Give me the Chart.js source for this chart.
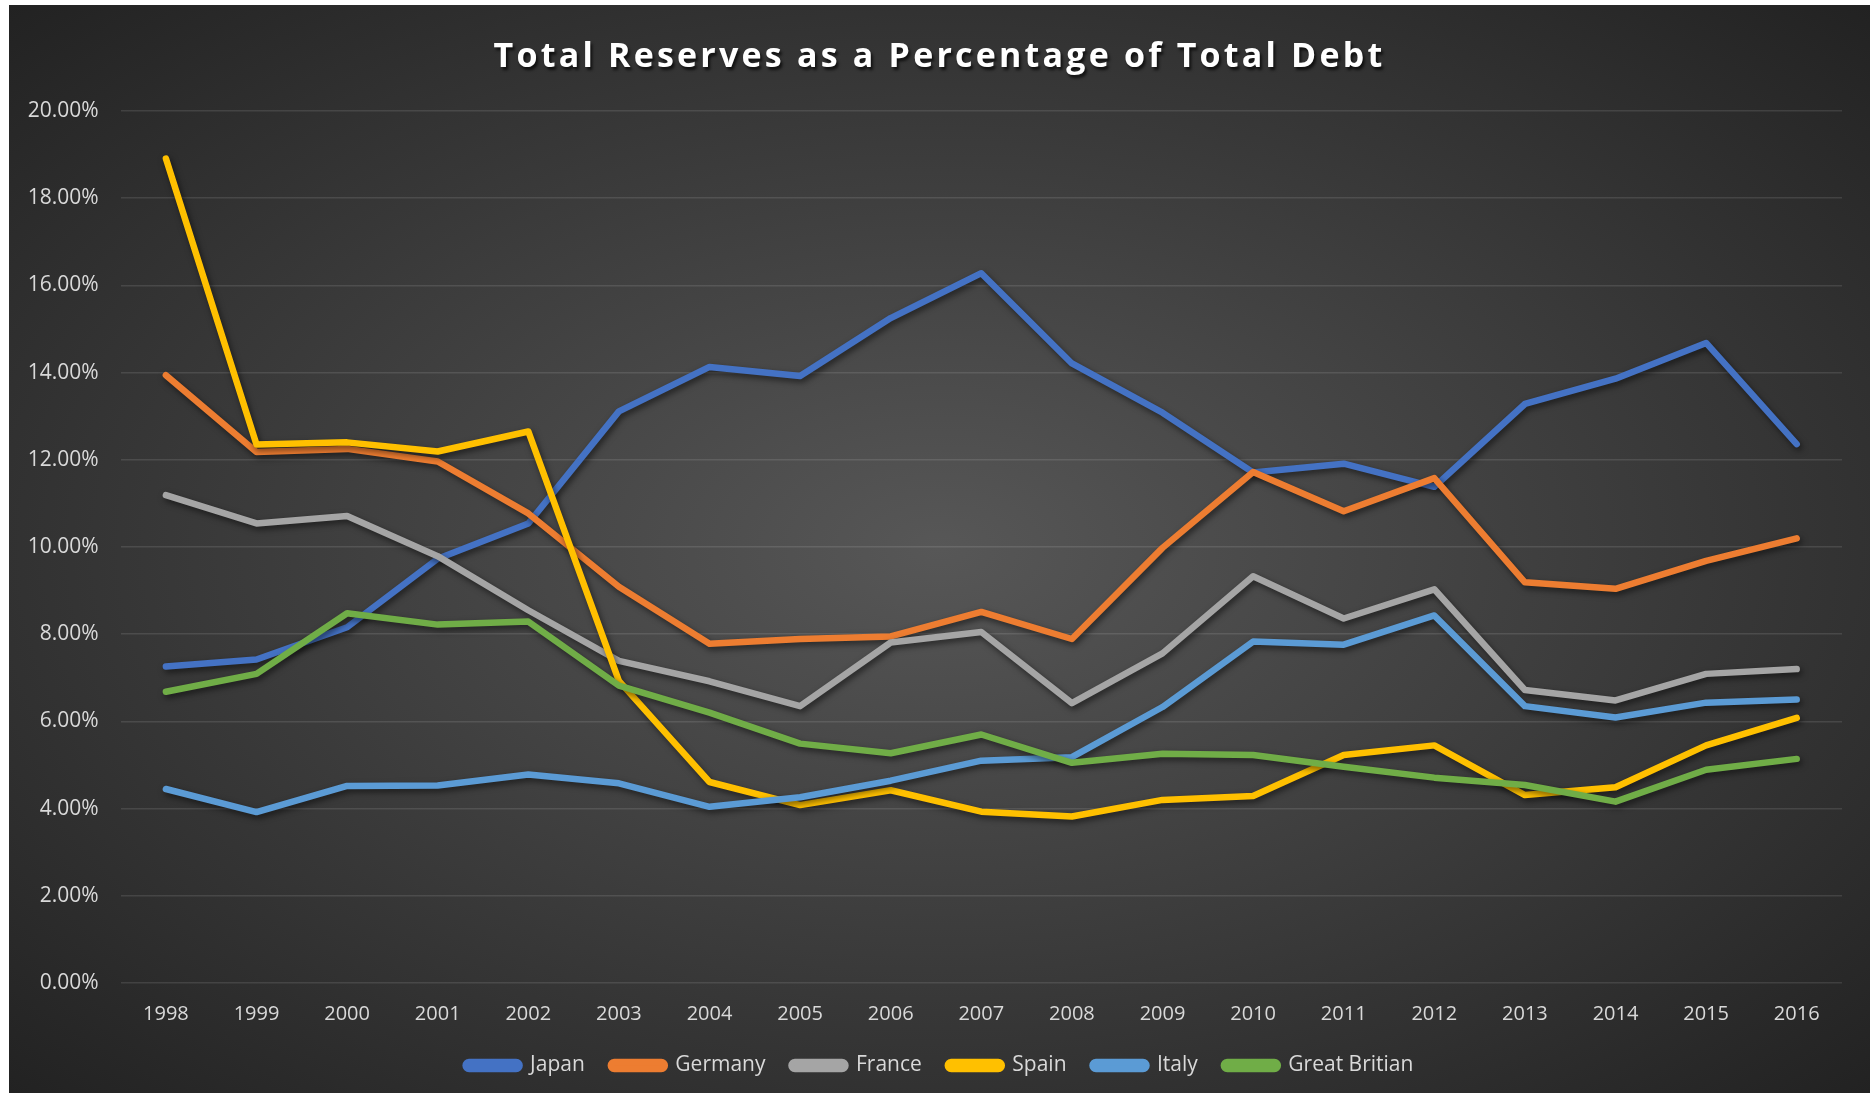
<!DOCTYPE html>
<html>
<head>
<meta charset="utf-8">
<script src="https://cdn.jsdelivr.net/npm/chart.js@4/dist/chart.umd.min.js"></script>
<style>
  body { margin: 0; background: #fff; width: 1872px; height: 1099px; overflow: hidden; }
  #box {
    position: absolute; left: 9px; top: 5px; width: 1861px; height: 1088px;
    background: radial-gradient(ellipse farthest-corner at 50% 50%, #575757 0%, #222 100%);
  }
  #title {
    position: absolute; left: 0; right: 0; top: 27px; text-align: center;
    font-family: "Open Sans", sans-serif; font-weight: bold; font-size: 34px;
    letter-spacing: 3.2px; color: #fff; line-height: 44px;
    text-shadow: 2px 3px 3px rgba(0, 0, 0, 0.7);
  }
  #chart { position: absolute; left: 0; top: 0; }
</style>
</head>
<body>
<div id="box">
  <canvas id="chart"></canvas>
  <div id="title">Total Reserves as a Percentage of Total Debt</div>
</div>
<script>
// Data (percent)
const years = ['1998', '1999', '2000', '2001', '2002', '2003', '2004', '2005', '2006', '2007',
  '2008', '2009', '2010', '2011', '2012', '2013', '2014', '2015', '2016'];
const japan = [7.26, 7.42, 8.16, 9.73, 10.54, 13.11, 14.13, 13.92, 15.25, 16.28,
  14.21, 13.08, 11.71, 11.91, 11.38, 13.28, 13.86, 14.68, 12.36];
const germany = [13.94, 12.18, 12.25, 11.96, 10.77, 9.09, 7.78, 7.89, 7.95, 8.51,
  7.89, 9.98, 11.72, 10.82, 11.58, 9.19, 9.04, 9.68, 10.20];
const france = [11.19, 10.54, 10.71, 9.79, 8.55, 7.39, 6.92, 6.35, 7.81, 8.05,
  6.42, 7.56, 9.33, 8.36, 9.03, 6.72, 6.48, 7.09, 7.20];
const spain = [18.91, 12.35, 12.40, 12.19, 12.65, 6.93, 4.61, 4.08, 4.42, 3.93,
  3.82, 4.20, 4.29, 5.23, 5.45, 4.31, 4.49, 5.45, 6.08];
const italy = [4.45, 3.92, 4.52, 4.53, 4.78, 4.58, 4.04, 4.26, 4.64, 5.10,
  5.18, 6.33, 7.83, 7.76, 8.43, 6.35, 6.09, 6.43, 6.50];
const greatBritain = [6.68, 7.09, 8.48, 8.22, 8.29, 6.82, 6.20, 5.49, 5.27, 5.70,
  5.05, 5.26, 5.23, 4.96, 4.71, 4.54, 4.16, 4.89, 5.14];
const yTicks = [0, 2, 4, 6, 8, 10, 12, 14, 16, 18, 20];

const seriesNames = ['Japan', 'Germany', 'France', 'Spain', 'Italy', 'Great Britian'];
const seriesData = [japan, germany, france, spain, italy, greatBritain];
const seriesColors = ['#4472C4', '#ED7D31', '#A5A5A5', '#FFC000', '#5B9BD5', '#70AD47'];

const labelColor = '#d9d9d9';
const font = { family: '"Open Sans", sans-serif', size: 20 };

// ombre sous les lignes
const lineShadow = {
  id: 'lineShadow',
  beforeDatasetDraw(chart) {
    const c = chart.ctx;
    c.save();
    c.shadowColor = 'rgba(0, 0, 0, 0.55)';
    c.shadowBlur = 6;
    c.shadowOffsetX = 2;
    c.shadowOffsetY = 3;
  },
  afterDatasetDraw(chart) {
    chart.ctx.restore();
  }
};

// légende centrée sur toute la largeur (pas seulement sur la zone sans padding)
const legendFullWidth = {
  id: 'legendFullWidth',
  beforeDraw(chart) {
    if (chart.legend) {
      chart.legend.left = 0;
      chart.legend.right = chart.width;
    }
  }
};

const ctx = document.getElementById('chart').getContext('2d');
new Chart(ctx, {
  type: 'line',
  data: {
    labels: years,
    datasets: seriesNames.map((name, i) => ({
      label: name,
      data: seriesData[i],
      borderColor: seriesColors[i],
      backgroundColor: seriesColors[i],
      borderWidth: 6.5,
      borderCapStyle: 'round',
      borderJoinStyle: 'round',
      pointRadius: 0,
      tension: 0,
      order: seriesNames.length - i
    }))
  },
  options: {
    responsive: true,
    maintainAspectRatio: false,
    animation: false,
    layout: { padding: { left: 0, right: 28, top: 106, bottom: 7 } },
    scales: {
      x: {
        offset: true,
        grid: { display: false },
        border: { display: false },
        ticks: { color: labelColor, font: font, padding: 11, maxRotation: 0 },
        afterFit(scale) { scale.height = 46; }
      },
      y: {
        min: yTicks[0],
        max: yTicks[yTicks.length - 1],
        afterBuildTicks(scale) { scale.ticks = yTicks.map(v => ({ value: v })); },
        grid: { color: 'rgba(255, 255, 255, 0.11)', lineWidth: 1.5, drawTicks: false },
        border: { display: false },
        ticks: {
          color: labelColor, font: { family: font.family, size: 21 }, padding: 22,
          callback: v => v.toFixed(2) + '%'
        },
        afterFit(scale) { scale.width = 111.6; }
      }
    },
    plugins: {
      legend: {
        position: 'bottom',
        labels: {
          color: labelColor,
          font: { family: font.family, size: 21 },
          boxWidth: 54,
          boxHeight: 7,
          useBorderRadius: true,
          borderRadius: 3.5,
          padding: 26,
          sort: (a, b) => a.datasetIndex - b.datasetIndex
        }
      },
      tooltip: { enabled: false }
    }
  },
  plugins: [lineShadow, legendFullWidth]
});
</script>
</body>
</html>
